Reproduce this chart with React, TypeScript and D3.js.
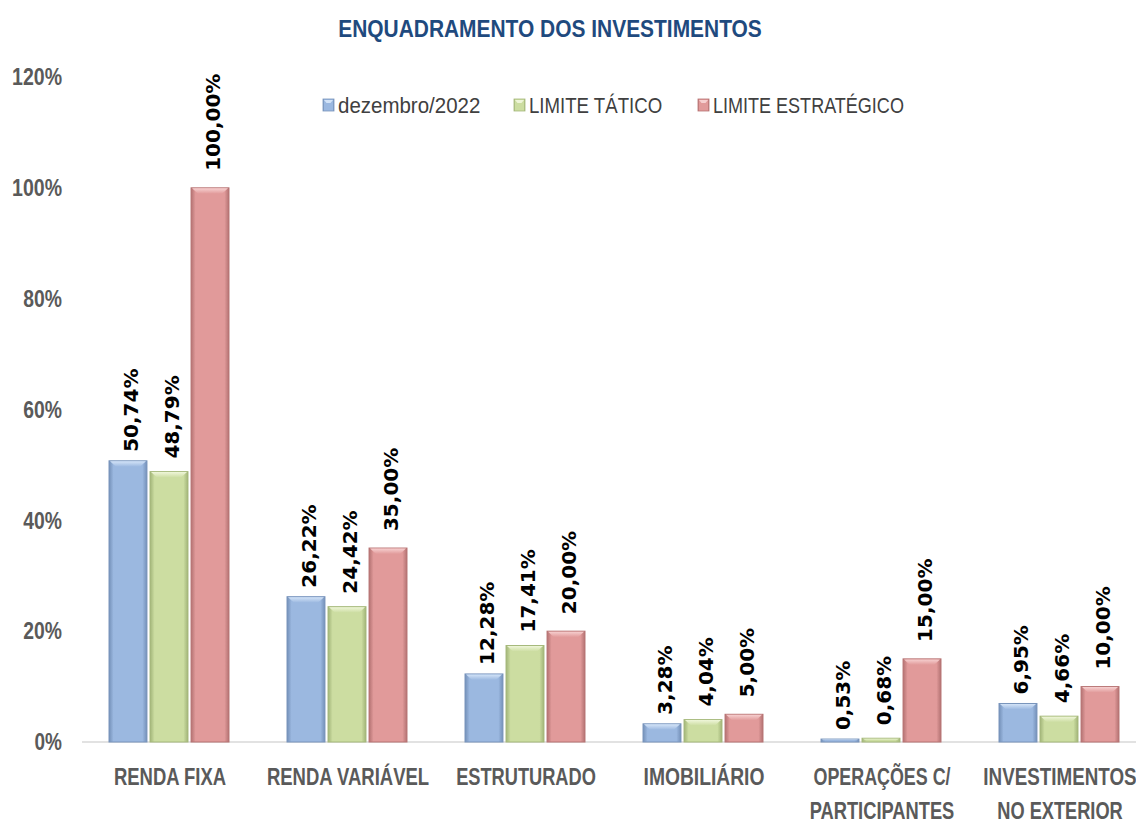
import * as d3 from "d3";

const categories = [
  "RENDA FIXA",
  "RENDA VARIÁVEL",
  "ESTRUTURADO",
  "IMOBILIÁRIO",
  "OPERAÇÕES C/\nPARTICIPANTES",
  "INVESTIMENTOS\nNO EXTERIOR",
];
const seriesNames = ["dezembro/2022", "LIMITE TÁTICO", "LIMITE ESTRATÉGICO"];
const dezembro2022 = [50.74, 26.22, 12.28, 3.28, 0.53, 6.95];
const limiteTatico = [48.79, 24.42, 17.41, 4.04, 0.68, 4.66];
const limiteEstrategico = [100.0, 35.0, 20.0, 5.0, 15.0, 10.0];
const yTicks = [0, 20, 40, 60, 80, 100, 120];

const seriesValues = [dezembro2022, limiteTatico, limiteEstrategico];
const palette = [
  { base: "#9BB8E0", edge: "#7894BC", light: "#D3E3F7", dark: "#7490B8", gap: 9 },
  { base: "#CCDDA1", edge: "#A5B87A", light: "#EEF5D8", dark: "#A1B478", gap: 13 },
  { base: "#E19A9A", edge: "#B77373", light: "#F6CFCF", dark: "#B37272", gap: 17 },
];

const W = 1136;
const H = 820;
const sans = "'Liberation Sans', Arial, sans-serif";

// approximate Calibri advance widths (em) so the squeezed text keeps its look
const calibri: Record<string, number> = {
  A: 0.606, B: 0.561, C: 0.529, D: 0.63, E: 0.488, F: 0.459, G: 0.637, I: 0.267,
  L: 0.423, M: 0.874, N: 0.659, O: 0.676, P: 0.532, Q: 0.686, R: 0.563, S: 0.473,
  T: 0.495, U: 0.653, V: 0.591, X: 0.551, "Á": 0.606, "É": 0.488, "Ç": 0.529,
  "Õ": 0.676, " ": 0.226, "/": 0.386, "%": 0.729, d: 0.525, e: 0.498, z: 0.395,
  m: 0.799, b: 0.525, r: 0.349, o: 0.527,
};
const textW = (s: string, size: number) =>
  d3.sum(Array.from(s), (c) => (/[0-9]/.test(c) ? 0.507 : calibri[c] ?? 0.5)) * size;

const fmt = (v: number) => v.toFixed(2).replace(".", ",") + "%";

export default function App() {
  const x0 = d3
    .scaleBand<string>()
    .domain(categories)
    .range([80, 1148])
    .paddingInner(0.326)
    .paddingOuter(0.163);
  const x1 = d3
    .scaleBand<string>()
    .domain(seriesNames)
    .range([0, x0.bandwidth()])
    .paddingInner(0.075);
  const y = d3.scaleLinear().domain([0, 120]).range([742, 77]);

  const title = "ENQUADRAMENTO DOS INVESTIMENTOS";
  const legendX = [323, 514, 698];

  return (
    <svg
      width={W}
      height={H}
      style={{ position: "absolute", left: 0, top: 0, background: "#fff" }}
    >
      <defs>
        {palette.map((p, i) => (
          <linearGradient key={i} id={`bar${i}`} x1="0" x2="1" y1="0" y2="0">
            <stop offset="0%" stopColor={p.dark} />
            <stop offset="12%" stopColor={p.base} />
            <stop offset="88%" stopColor={p.base} />
            <stop offset="100%" stopColor={p.dark} />
          </linearGradient>
        ))}
        {palette.map((p, i) => (
          <linearGradient key={i} id={`top${i}`} x1="0" x2="0" y1="0" y2="1">
            <stop offset="0%" stopColor={p.light} />
            <stop offset="100%" stopColor={p.base} />
          </linearGradient>
        ))}
      </defs>

      <text
        x={550}
        y={37}
        textAnchor="middle"
        fontFamily={sans}
        fontWeight="bold"
        fontSize={23.5}
        fill="#1F4A7E"
        textLength={textW(title, 24.6)}
        lengthAdjust="spacingAndGlyphs"
      >
        {title}
      </text>

      {/* legend */}
      {seriesNames.map((s, i) => {
        const p = palette[i];
        return (
          <g key={s} transform={`translate(${legendX[i]},105)`}>
            <rect x={0} y={-6} width={11} height={12} fill={`url(#bar${i})`} stroke={p.edge} strokeWidth={0.8} />
            <path d="M1,-5 L10,-5 L7.5,-2 L3.5,-2 Z" fill={p.light} />
            <text
              x={15}
              y={8}
              fontFamily={sans}
              fontSize={22}
              fill="#404040"
              textLength={textW(s, 21.8)}
              lengthAdjust="spacingAndGlyphs"
            >
              {s}
            </text>
          </g>
        );
      })}

      {/* y ticks */}
      {yTicks.map((t) => (
        <text
          key={t}
          x={62}
          y={y(t)}
          dy="0.36em"
          textAnchor="end"
          fontFamily={sans}
          fontWeight="bold"
          fontSize={23}
          fill="#5A5A5A"
          textLength={textW(`${t}%`, 22.2)}
          lengthAdjust="spacingAndGlyphs"
        >
          {t}%
        </text>
      ))}

      {/* baseline */}
      <line x1={82} x2={W} y1={y(0)} y2={y(0)} stroke="#D9D9D9" strokeWidth={1.5} />

      {/* bars */}
      {categories.map((c, ci) => (
        <g key={c} transform={`translate(${x0(c)},0)`}>
          {seriesNames.map((s, si) => {
            const v = seriesValues[si][ci];
            const bx = x1(s) as number;
            const bw = x1.bandwidth();
            const top = y(v);
            const h = y(0) - top;
            const b = Math.min(6, h / 2);
            const p = palette[si];
            return (
              <g key={s}>
                <rect
                  x={bx}
                  y={top}
                  width={bw}
                  height={h}
                  fill={`url(#bar${si})`}
                  stroke={p.edge}
                  strokeWidth={1}
                />
                <path
                  d={`M${bx + 1},${top + 0.5} L${bx + bw - 1},${top + 0.5} L${bx + bw - 1 - b},${top + b} L${bx + 1 + b},${top + b} Z`}
                  fill={`url(#top${si})`}
                />
                <text
                  transform={`translate(${bx + bw / 2 + 2.5},${top - p.gap}) rotate(-90)`}
                  dy="0.36em"
                  fontFamily="'DejaVu Sans', Verdana, sans-serif"
                  fontWeight="bold"
                  fontSize={20}
                  fill="#000"
                >
                  {fmt(v)}
                </text>
              </g>
            );
          })}
          {c.split("\n").map((line, li) => (
            <text
              key={li}
              x={x0.bandwidth() / 2 + 1}
              y={785 + li * 34}
              textAnchor="middle"
              fontFamily={sans}
              fontWeight="bold"
              fontSize={23}
              fill="#5A5A5A"
              textLength={textW(line, 22.2)}
              lengthAdjust="spacingAndGlyphs"
            >
              {line}
            </text>
          ))}
        </g>
      ))}
    </svg>
  );
}
